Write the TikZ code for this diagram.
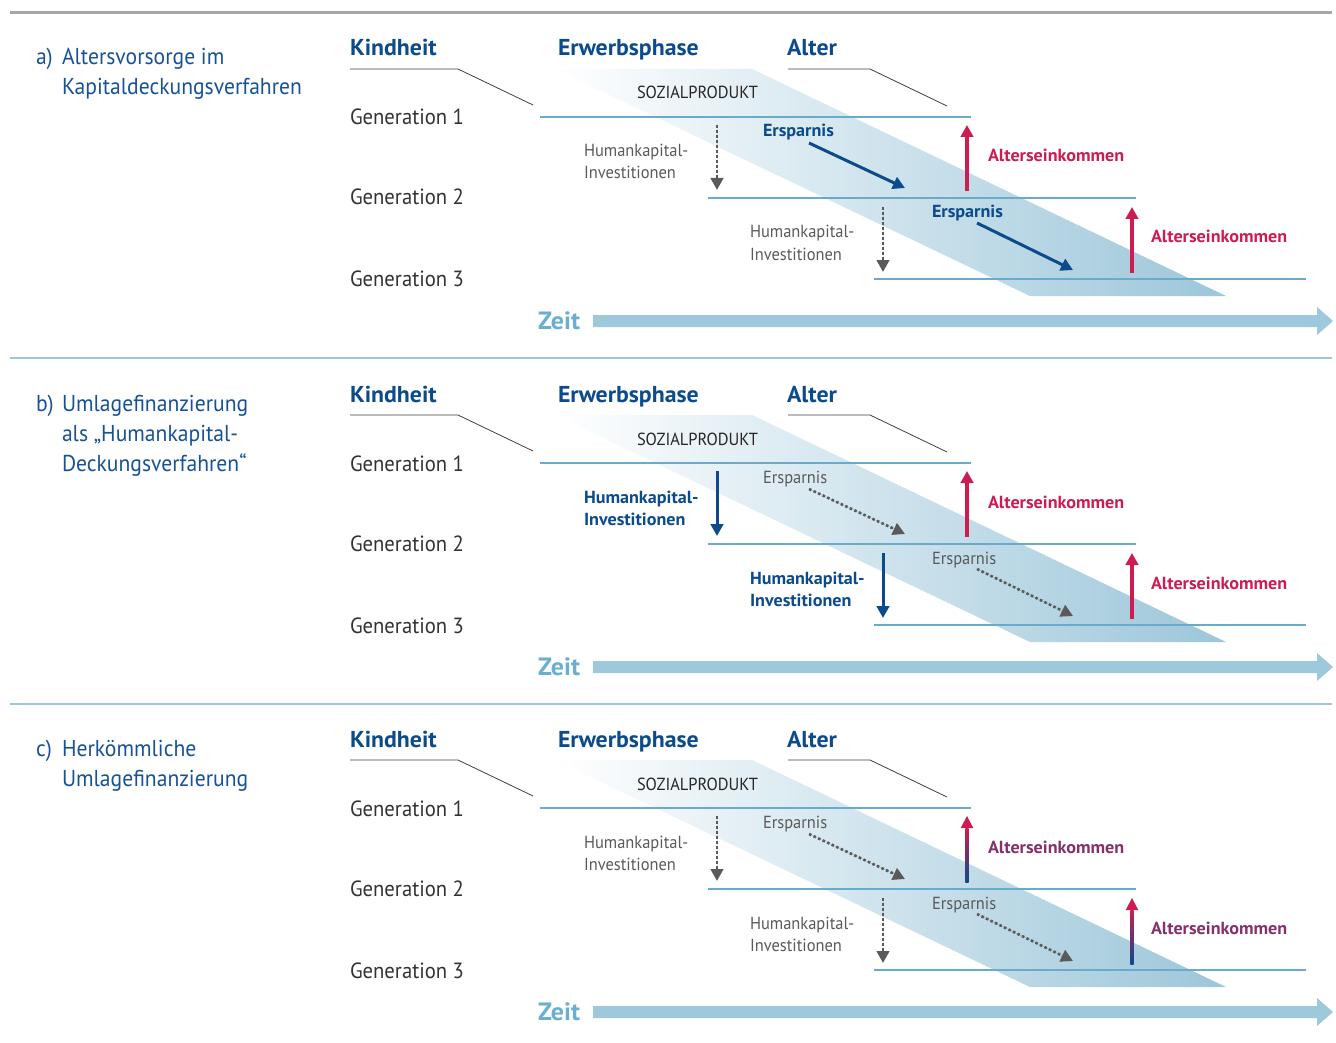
\documentclass[tikz,border=0pt]{standalone}
\usepackage{fontspec}
\setmainfont{PT Sans}[FakeStretch=0.94]
\newfontfamily\bfam{PT Sans}[FakeStretch=1.035]
\usetikzlibrary{arrows.meta}
\definecolor{dblue}{HTML}{0B4A8B}
\definecolor{tblue}{HTML}{175296}
\definecolor{crim}{HTML}{CC1C52}
\definecolor{gline}{HTML}{6AAACB}
\definecolor{band}{HTML}{9CC6DA}
\definecolor{zeitc}{HTML}{6AAED0}
\definecolor{zarrow}{HTML}{9EC8DC}
\definecolor{tgray}{HTML}{5A5A5A}
\definecolor{gtext}{HTML}{333333}
\definecolor{purp}{HTML}{86306A}
\tikzset{
  txt/.style={anchor=base west, inner sep=0pt, outer sep=0pt},
  titletxt/.style={txt, font=\fontsize{23}{28}\selectfont, text=tblue},
  phase/.style={txt, font=\fontsize{23}{28}\selectfont\bfam\bfseries, text=dblue},
  gen/.style={txt, font=\fontsize{22}{26}\selectfont, text=gtext},
  smalltxt/.style={txt, font=\fontsize{17.5}{22}\selectfont, text=tgray},
  smallbold/.style={txt, font=\fontsize{17.5}{22}\selectfont\bfam\bfseries, text=dblue},
  altx/.style={txt, font=\fontsize{17.5}{22}\selectfont\bfam\bfseries, text=crim},
  zeittxt/.style={txt, font=\fontsize{25}{30}\selectfont\bfam\bfseries, text=zeitc},
  genline/.style={draw=gline, line width=2.6pt},
  leader/.style={draw=black!75, line width=0.8pt},
  sepline/.style={draw=band, line width=2.6pt},
  tip/.style={-{Triangle[width=12.5pt,length=12pt]}},
  dotarrow/.style={tip, draw=tgray, fill=tgray, line width=2.6pt, dash pattern=on 2.6pt off 2.4pt},
  bluearrow/.style={tip, draw=dblue, fill=dblue, line width=3pt},
  altarrow/.style={tip, draw=crim, fill=crim, line width=3.2pt},
}
\newcommand\panelbody[1]{%
  \shade[left color=white, right color=band] (555,69) -- (752,69) -- (1226,296) -- (1030,296) -- cycle;
  \draw[genline] (540,117) -- (971,117);
  \draw[genline] (708,198) -- (1136,198);
  \draw[genline] (874,279) -- (1306,279);
  \node[phase] (#1kind) at (350,56) {Kindheit};
  \node[phase] (#1erw) at (558,56) {Erwerbsphase};
  \node[phase] (#1alt) at (787,56) {Alter};
  \coordinate (#1ka) at (350,69); \coordinate (#1kb) at (458,69); \coordinate (#1kc) at (533,105);
  \draw[leader] (#1ka) -- (#1kb) -- (#1kc);
  \coordinate (#1la) at (788,69); \coordinate (#1lb) at (870,69); \coordinate (#1lc) at (947,106);
  \draw[leader] (#1la) -- (#1lb) -- (#1lc);
  \node[gen] (#1g1) at (350,125) {Generation 1};
  \node[gen] (#1g2) at (350,205) {Generation 2};
  \node[gen] (#1g3) at (350,287) {Generation 3};
  \node[smalltxt, text=black!85] (#1soz) at (637,99) {SOZIALPRODUKT};
  \node[hk] (#1hka) at (584,157) {Humankapital-};
  \node[hk] (#1hkb) at (584,179) {Investitionen};
  \node[hk] (#1hkc) at (750,238) {Humankapital-};
  \node[hk] (#1hkd) at (750,260) {Investitionen};
  \coordinate (#1hs1) at (717,125); \coordinate (#1he1) at (717,190);
  \coordinate (#1hs2) at (883,207); \coordinate (#1he2) at (883,272);
  \draw[hkarrow] (#1hs1) -- (#1he1);
  \draw[hkarrow] (#1hs2) -- (#1he2);
  \node[ers] (#1e1) at (763,137) {Ersparnis};
  \node[ers] (#1e2) at (932,218) {Ersparnis};
  \coordinate (#1es1) at (809,143); \coordinate (#1ee1) at (905,188);
  \coordinate (#1es2) at (977,223); \coordinate (#1ee2) at (1073,270);
  \draw[ersarrow] (#1es1) -- (#1ee1);
  \draw[ersarrow] (#1es2) -- (#1ee2);
  \node[zeittxt] (#1zeit) at (538,329) {Zeit};
  \fill[zarrow] (593,315) -- (1317,315) -- (1317,307) -- (1333,321) -- (1317,335) -- (1317,327) -- (593,327) -- cycle;
  \coordinate (#1as1) at (967,191); \coordinate (#1ae1) at (967,125);
  \coordinate (#1as2) at (1132,273); \coordinate (#1ae2) at (1132,207);
}
\begin{document}
\begin{tikzpicture}[x=1pt,y=-1pt]
\useasboundingbox (0,0) rectangle (1336,1043);
\fill[white] (0,0) rectangle (1336,1043);
\draw[draw=black!35, line width=2.8pt] (10,12.5) -- (1332,12.5);
\draw[sepline] (10,358) -- (1332,358);
\draw[sepline] (10,704) -- (1332,704);
% panel a
\begin{scope}[hk/.style={smalltxt}, hkarrow/.style={dotarrow}, ers/.style={smallbold}, ersarrow/.style={bluearrow}]
  \panelbody{a}
  \node[titletxt] (at0) at (36,65) {a)};
  \node[titletxt] (at1) at (62,65) {Altersvorsorge im};
  \node[titletxt] (at2) at (62,95) {Kapitaldeckungsverfahren};
  \draw[altarrow] (aas1) -- (aae1);
  \draw[altarrow] (aas2) -- (aae2);
  \node[altx] (aal1) at (988,162) {Alterseinkommen};
  \node[altx] (aal2) at (1151,243) {Alterseinkommen};
\end{scope}
% panel b
\begin{scope}[yshift=-346pt, hk/.style={smallbold}, hkarrow/.style={bluearrow}, ers/.style={smalltxt}, ersarrow/.style={dotarrow}]
  \panelbody{b}
  \node[titletxt] (bt0) at (36,65) {b)};
  \node[titletxt] (bt1) at (62,65) {Umlagefinanzierung};
  \node[titletxt] (bt2) at (62,95) {als „Humankapital-};
  \node[titletxt] (bt3) at (62,125) {Deckungsverfahren“};
  \draw[altarrow] (bas1) -- (bae1);
  \draw[altarrow] (bas2) -- (bae2);
  \node[altx] (bal1) at (988,162) {Alterseinkommen};
  \node[altx] (bal2) at (1151,243) {Alterseinkommen};
\end{scope}
% panel c
\begin{scope}[yshift=-691pt, hk/.style={smalltxt}, hkarrow/.style={dotarrow}, ers/.style={smalltxt}, ersarrow/.style={dotarrow}]
  \panelbody{c}
  \node[titletxt] (ct0) at (36,65) {c)};
  \node[titletxt] (ct1) at (62,65) {Herkömmliche};
  \node[titletxt] (ct2) at (62,95) {Umlagefinanzierung};
  \shade[top color=crim, bottom color=dblue] (965.4,137) rectangle (968.6,191);
  \fill[crim] (960.7,137) -- (967,125) -- (973.3,137) -- cycle;
  \shade[top color=crim, bottom color=dblue] (1130.4,219) rectangle (1133.6,273);
  \fill[crim] (1125.7,219) -- (1132,207) -- (1138.3,219) -- cycle;
  \node[altx, text=purp] (cal1) at (988,162) {Alterseinkommen};
  \node[altx, text=purp] (cal2) at (1151,243) {Alterseinkommen};
\end{scope}
\end{tikzpicture}
\end{document}
